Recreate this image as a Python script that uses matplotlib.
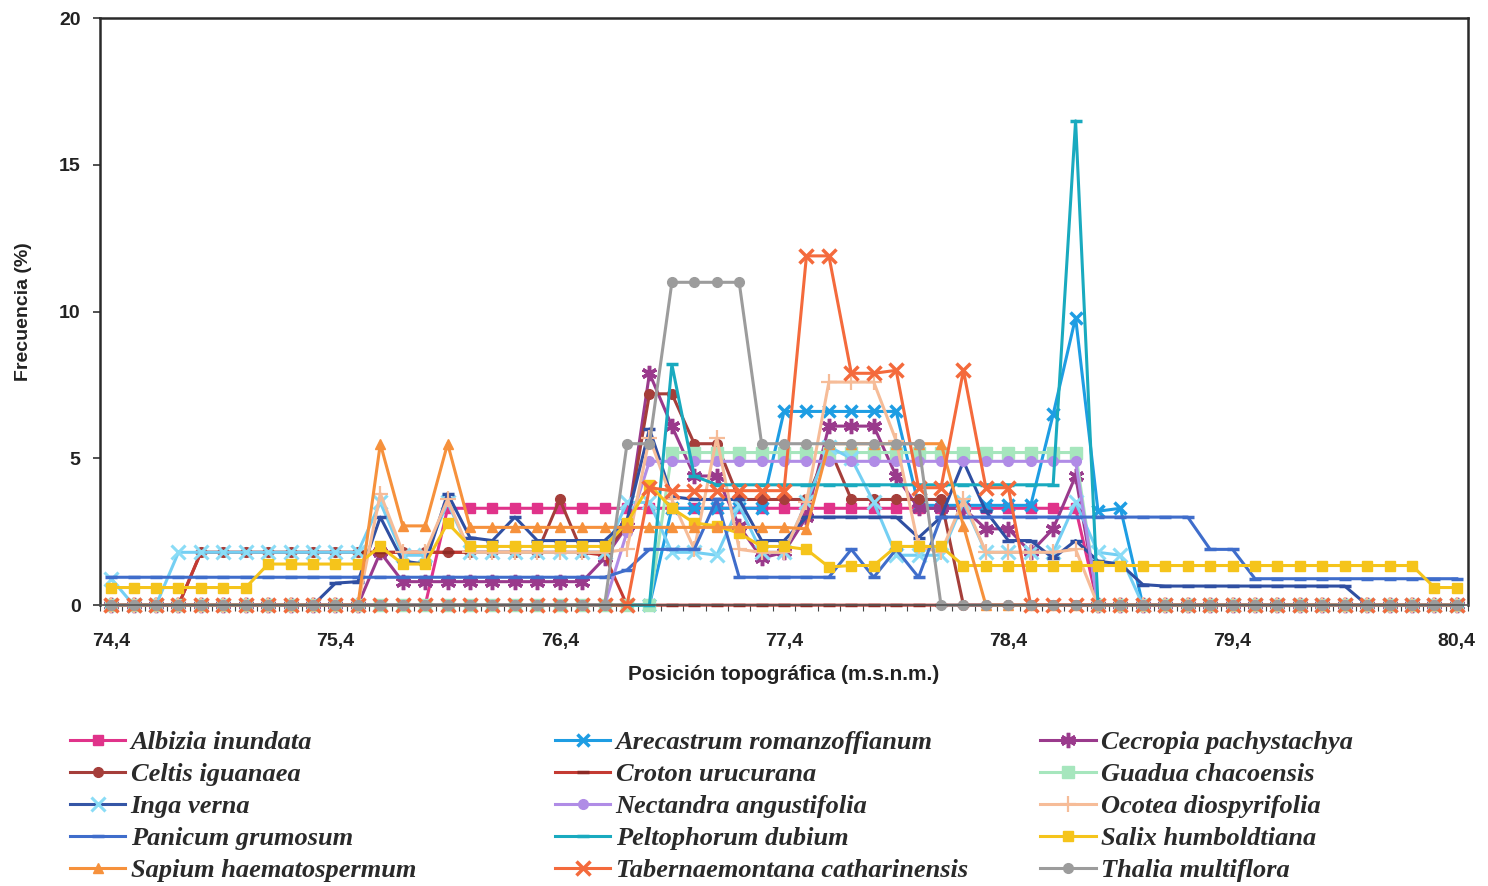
import numpy as np
import matplotlib.pyplot as plt
from matplotlib.lines import Line2D

# Posición topográfica (m.s.n.m.), cada 0,1 m
posicion = np.round(np.linspace(74.4, 80.4, 61), 1)
etiquetas_x = ["74,4", "75,4", "76,4", "77,4", "78,4", "79,4", "80,4"]
ticks_x = [74.4, 75.4, 76.4, 77.4, 78.4, 79.4, 80.4]
ticks_y = [0, 5, 10, 15, 20]

# Frecuencia (%) por especie
albizia = [0, 0, 0, 0, 0, 0, 0, 0, 0, 0,
           0, 0, 0, 0, 0, 3.3, 3.3, 3.3, 3.3, 3.3,
           3.3, 3.3, 3.3, 3.3, 3.3, 3.3, 3.3, 3.3, 3.3, 3.3,
           3.3, 3.3, 3.3, 3.3, 3.3, 3.3, 3.3, 3.3, 3.3, 3.3,
           3.3, 3.3, 3.3, 3.3, 0, 0, 0, 0, 0, 0,
           0, 0, 0, 0, 0, 0, 0, 0, 0, 0, 0]
arecastrum = [0, 0, 0, 0, 0, 0, 0, 0, 0, 0,
              0, 0, 0, 0, 0, 0, 0, 0, 0, 0,
              0, 0, 0, 0, 0, 3.3, 3.3, 3.3, 3.3, 3.3,
              6.6, 6.6, 6.6, 6.6, 6.6, 6.6, 3.4, 3.4, 3.4, 3.4,
              3.4, 3.4, 6.5, 9.8, 3.2, 3.3, 0, 0, 0, 0,
              0, 0, 0, 0, 0, 0, 0, 0, 0, 0, 0]
cecropia = [0, 0, 0, 0, 0, 0, 0, 0, 0, 0,
            0, 0, 1.8, 0.8, 0.8, 0.8, 0.8, 0.8, 0.8, 0.8,
            0.8, 0.8, 1.6, 2.7, 7.9, 6.1, 4.4, 4.4, 2.7, 1.6,
            1.8, 3.0, 6.1, 6.1, 6.1, 4.4, 3.3, 3.3, 3.3, 2.6,
            2.6, 1.8, 2.6, 4.4, 0, 0, 0, 0, 0, 0,
            0, 0, 0, 0, 0, 0, 0, 0, 0, 0, 0]
celtis = [0, 0, 0, 0, 1.8, 1.8, 1.8, 1.8, 1.8, 1.8,
          1.8, 1.8, 1.8, 1.8, 1.8, 1.8, 1.8, 1.8, 1.8, 1.8,
          3.6, 1.8, 1.8, 2.7, 7.2, 7.2, 5.5, 5.5, 3.6, 3.6,
          3.6, 3.6, 5.4, 3.6, 3.6, 3.6, 3.6, 3.6, 0, 0,
          0, 0, 0, 0, 0, 0, 0, 0, 0, 0,
          0, 0, 0, 0, 0, 0, 0, 0, 0, 0, 0]
croton = [0, 0, 0, 0, 1.8, 1.8, 1.8, 1.8, 1.8, 1.8,
          1.8, 1.8, 1.8, 1.8, 1.8, 1.8, 1.8, 1.8, 1.8, 1.8,
          1.8, 1.8, 1.7, 0, 0, 0, 0, 0, 0, 0,
          0, 0, 0, 0, 0, 0, 0, 0, 0, 0,
          0, 0, 0, 0, 0, 0, 0, 0, 0, 0,
          0, 0, 0, 0, 0, 0, 0, 0, 0, 0, 0]
guadua = [0, 0, 0, 0, 0, 0, 0, 0, 0, 0,
          0, 0, 0, 0, 0, 0, 0, 0, 0, 0,
          0, 0, 0, 0, 0, 5.2, 5.2, 5.2, 5.2, 5.2,
          5.2, 5.2, 5.2, 5.2, 5.2, 5.2, 5.2, 5.2, 5.2, 5.2,
          5.2, 5.2, 5.2, 5.2, 0, 0, 0, 0, 0, 0,
          0, 0, 0, 0, 0, 0, 0, 0, 0, 0, 0]
inga = [0.9, 0, 0, 1.8, 1.8, 1.8, 1.8, 1.8, 1.8, 1.8,
        1.8, 1.8, 3.5, 1.7, 1.7, 3.5, 1.8, 1.8, 1.8, 1.8,
        1.8, 1.8, 1.8, 3.5, 3.5, 1.8, 1.8, 1.7, 3.4, 1.8,
        1.8, 3.5, 5.4, 5.0, 3.5, 1.7, 1.7, 1.7, 3.5, 1.8,
        1.8, 1.8, 1.8, 3.5, 1.8, 1.7, 0, 0, 0, 0,
        0, 0, 0, 0, 0, 0, 0, 0, 0, 0, 0]
azul_oscuro = [0, 0, 0, 0, 0, 0, 0, 0, 0, 0,
               0.75, 0.8, 3.0, 1.5, 1.4, 3.8, 2.3, 2.2, 3.0, 2.2,
               2.2, 2.2, 2.2, 2.9, 6.0, 3.7, 3.6, 3.6, 3.6, 2.2,
               2.2, 3.0, 3.0, 3.0, 3.0, 3.0, 2.3, 3.0, 4.9, 3.2,
               2.2, 2.2, 1.6, 2.2, 1.5, 1.4, 0.7, 0.65, 0.65, 0.65,
               0.65, 0.65, 0.65, 0.65, 0.65, 0.65, 0, 0, 0, 0, 0]
nectandra = [0, 0, 0, 0, 0, 0, 0, 0, 0, 0,
             0, 0, 0, 0, 0, 0, 0, 0, 0, 0,
             0, 0, 0, 2.5, 4.9, 4.9, 4.9, 4.9, 4.9, 4.9,
             4.9, 4.9, 4.9, 4.9, 4.9, 4.9, 4.9, 4.9, 4.9, 4.9,
             4.9, 4.9, 4.9, 4.9, 0, 0, 0, 0, 0, 0,
             0, 0, 0, 0, 0, 0, 0, 0, 0, 0, 0]
ocotea = [0, 0, 0, 0, 0, 0, 0, 0, 0, 0,
          0, 0, 3.8, 1.8, 1.8, 3.6, 1.8, 1.8, 1.8, 1.8,
          1.8, 1.8, 1.8, 1.9, 5.7, 3.6, 1.9, 5.7, 1.9, 1.8,
          1.8, 3.5, 7.6, 7.6, 7.6, 5.6, 2.0, 1.8, 3.6, 1.8,
          1.8, 1.8, 1.8, 1.9, 0, 0, 0, 0, 0, 0,
          0, 0, 0, 0, 0, 0, 0, 0, 0, 0, 0]
panicum = [0.95, 0.95, 0.95, 0.95, 0.95, 0.95, 0.95, 0.95, 0.95, 0.95,
           0.95, 0.95, 0.95, 0.95, 0.95, 0.95, 0.95, 0.95, 0.95, 0.95,
           0.95, 0.95, 0.95, 1.2, 1.9, 1.9, 1.9, 3.6, 0.95, 0.95,
           0.95, 0.95, 0.95, 1.9, 0.95, 1.9, 0.95, 3.0, 3.0, 3.0,
           3.0, 3.0, 3.0, 3.0, 3.0, 3.0, 3.0, 3.0, 3.0, 1.9,
           1.9, 0.9, 0.9, 0.9, 0.9, 0.9, 0.9, 0.9, 0.9, 0.9, 0.9]
peltophorum = [0, 0, 0, 0, 0, 0, 0, 0, 0, 0,
               0, 0, 0, 0, 0, 0, 0, 0, 0, 0,
               0, 0, 0, 0, 0, 8.2, 4.4, 4.1, 4.1, 4.1,
               4.1, 4.1, 4.1, 4.1, 4.1, 4.1, 4.1, 4.1, 4.1, 4.1,
               4.1, 4.1, 4.1, 16.5, 0, 0, 0, 0, 0, 0,
               0, 0, 0, 0, 0, 0, 0, 0, 0, 0, 0]
salix = [0.6, 0.6, 0.6, 0.6, 0.6, 0.6, 0.6, 1.4, 1.4, 1.4,
         1.4, 1.4, 2.0, 1.4, 1.4, 2.8, 2.0, 2.0, 2.0, 2.0,
         2.0, 2.0, 2.0, 2.8, 4.1, 3.3, 2.8, 2.7, 2.45, 2.0,
         2.0, 1.9, 1.3, 1.35, 1.35, 2.0, 2.0, 2.0, 1.35, 1.35,
         1.35, 1.35, 1.35, 1.35, 1.35, 1.35, 1.35, 1.35, 1.35, 1.35,
         1.35, 1.35, 1.35, 1.35, 1.35, 1.35, 1.35, 1.35, 1.35, 0.6, 0.6]
sapium = [0, 0, 0, 0, 0, 0, 0, 0, 0, 0,
          0, 0, 5.5, 2.7, 2.7, 5.5, 2.65, 2.65, 2.65, 2.65,
          2.65, 2.65, 2.65, 2.65, 2.65, 2.65, 2.65, 2.65, 2.65, 2.65,
          2.65, 2.6, 5.5, 5.5, 5.5, 5.5, 5.5, 5.5, 2.7, 0,
          0, 0, 0, 0, 0, 0, 0, 0, 0, 0,
          0, 0, 0, 0, 0, 0, 0, 0, 0, 0, 0]
tabernaemontana = [0, 0, 0, 0, 0, 0, 0, 0, 0, 0,
                   0, 0, 0, 0, 0, 0, 0, 0, 0, 0,
                   0, 0, 0, 0, 4.0, 3.9, 3.9, 3.9, 3.9, 3.9,
                   3.9, 11.9, 11.9, 7.9, 7.9, 8.0, 4.0, 4.0, 8.0, 4.0,
                   4.0, 0, 0, 0, 0, 0, 0, 0, 0, 0,
                   0, 0, 0, 0, 0, 0, 0, 0, 0, 0, 0]
thalia = [0, 0, 0, 0, 0, 0, 0, 0, 0, 0,
          0, 0, 0, 0, 0, 0, 0, 0, 0, 0,
          0, 0, 0, 5.5, 5.5, 11.0, 11.0, 11.0, 11.0, 5.5,
          5.5, 5.5, 5.5, 5.5, 5.5, 5.5, 5.5, 0, 0, 0,
          0, 0, 0, 0, 0, 0, 0, 0, 0, 0,
          0, 0, 0, 0, 0, 0, 0, 0, 0, 0, 0]

# nombre, datos, color de línea, marcador, color de marcador, tamaño, grosor
series = [
    ("Albizia inundata", albizia, "#E0338A", "s", "#E0338A", 6.5, 1.0),
    ("Arecastrum romanzoffianum", arecastrum, "#1E9DE3", "x", "#1E9DE3", 9, 2.5),
    ("Cecropia pachystachya", cecropia, "#9A3A8C", (6, 2, 0), "#9A3A8C", 11, 2.5),
    ("Celtis iguanaea", celtis, "#A53E3A", "o", "#A53E3A", 7, 1.0),
    ("Croton urucurana", croton, "#C43A32", "_", "#8E2A24", 8, 2.5),
    ("Guadua chacoensis", guadua, "#A6E6BD", "s", "#A6E6BD", 9, 1.0),
    ("Inga verna", inga, "#74CFF3", "x", "#8ADCF6", 10, 2.2),
    (None, azul_oscuro, "#2F4FA2", "_", "#2F4FA2", 8, 2.5),
    ("Nectandra angustifolia", nectandra, "#B08CE6", "o", "#B08CE6", 7, 1.0),
    ("Ocotea diospyrifolia", ocotea, "#F6BC98", "+", "#F6BC98", 11, 1.6),
    ("Panicum grumosum", panicum, "#3F6DCB", "_", "#3F6DCB", 8, 2.5),
    ("Peltophorum dubium", peltophorum, "#19AABF", "_", "#19AABF", 9, 2.5),
    ("Salix humboldtiana", salix, "#F5C41B", "s", "#F5C41B", 6.5, 1.0),
    ("Sapium haematospermum", sapium, "#F6913C", "^", "#F6913C", 7, 1.0),
    ("Tabernaemontana catharinensis", tabernaemontana, "#F46A3C", "x", "#F46A3C", 10, 2.5),
    ("Thalia multiflora", thalia, "#9C9C9C", "o", "#9C9C9C", 7, 1.0),
]

fig = plt.figure(figsize=(14.88, 8.86), dpi=100)
ax = fig.add_axes([0.0672, 0.317, 0.9194, 0.6625])

handles = {}
for nombre, datos, color, marcador, mcolor, ms, mew in series:
    linea, = ax.plot(posicion, datos, color=color, lw=2.2, marker=marcador,
                     markersize=ms, markerfacecolor=mcolor,
                     markeredgecolor=mcolor, markeredgewidth=mew,
                     solid_joinstyle="round", clip_on=False)
    if nombre is not None:
        handles[nombre] = linea

# Inga: línea azul oscura con marcador celeste en la leyenda
handles["Inga verna"] = Line2D([], [], color="#3556A6", lw=2.2, marker="x",
                               markersize=10, markeredgecolor="#8ADCF6",
                               markeredgewidth=2.2)

ax.set_xlim(74.35, 80.45)
ax.set_ylim(0, 20)
ax.set_xticks(ticks_x)
ax.set_xticklabels(etiquetas_x)
ax.set_xticks(np.round(np.arange(74.35, 80.46, 0.1), 2), minor=True)
ax.set_yticks(ticks_y)
ax.tick_params(axis="x", which="major", length=0, pad=20)
ax.tick_params(axis="x", which="minor", length=4, width=0.8, color="#444444")
ax.tick_params(axis="y", length=5, width=1.2, color="#333333", pad=9)

for lab in ax.get_xticklabels() + ax.get_yticklabels():
    lab.set_fontfamily("Liberation Sans")
    lab.set_fontweight("bold")
    lab.set_fontsize(14)
    lab.set_color("#222222")

for lado in ["left", "top", "right"]:
    ax.spines[lado].set_color("#2a2a2a")
    ax.spines[lado].set_linewidth(1.8)
ax.spines["bottom"].set_color("#555555")
ax.spines["bottom"].set_linewidth(1.2)

ax.set_xlabel("Posición topográfica (m.s.n.m.)", fontfamily="Liberation Sans",
              fontweight="bold", fontsize=15, color="#222222", labelpad=11)
ax.set_ylabel("Frecuencia (%)", fontfamily="Liberation Sans",
              fontweight="bold", fontsize=14, color="#222222", labelpad=19)

# Leyenda en tres columnas
columnas = [
    ["Albizia inundata", "Celtis iguanaea", "Inga verna",
     "Panicum grumosum", "Sapium haematospermum"],
    ["Arecastrum romanzoffianum", "Croton urucurana", "Nectandra angustifolia",
     "Peltophorum dubium", "Tabernaemontana catharinensis"],
    ["Cecropia pachystachya", "Guadua chacoensis", "Ocotea diospyrifolia",
     "Salix humboldtiana", "Thalia multiflora"],
]
x_col = [0.047, 0.373, 0.699]
for xc, nombres in zip(x_col, columnas):
    fig.legend([handles[n] for n in nombres], nombres, loc="upper left",
               bbox_to_anchor=(xc, 0.175), frameon=False, handlelength=2.1,
               handletextpad=0.2, labelspacing=0.32, borderpad=0,
               borderaxespad=0,
               prop={"family": "Liberation Serif", "weight": "bold",
                     "style": "italic", "size": 19},
               labelcolor="#2a2a2a")

fig.savefig("out.png", dpi=100)
